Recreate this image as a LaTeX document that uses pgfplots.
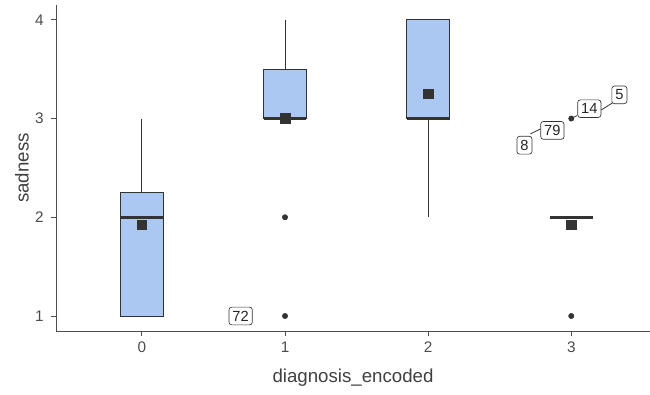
\documentclass[border=0pt]{standalone}
\usepackage{fontspec}
\setmainfont{Liberation Sans}
\usepackage{pgfplots}
\pgfplotsset{compat=1.18}
\usepgfplotslibrary{statistics}
\definecolor{boxfill}{RGB}{170,200,242}
\definecolor{edge}{RGB}{51,51,51}
\begin{document}
\begin{tikzpicture}
\begin{axis}[
  scale only axis,
  width=445.5pt, height=244.5pt,
  xmin=-0.6, xmax=3.55, ymin=0.848, ymax=4.15,
  axis lines=left,
  axis line style={black!70, line width=0.6pt, -},
  xtick={0,1,2,3}, ytick={1,2,3,4},
  tick style={black!70, line width=0.6pt},
  tick align=outside, major tick length=3.75pt,
  /pgf/number format/assume math mode=true,
  ticklabel style={font=\fontsize{11.5}{13}\selectfont, text=black!70},
  yticklabel style={xshift=-2pt},
  xticklabel style={yshift=-1pt},
  xlabel={diagnosis\_encoded}, ylabel={sadness},
  every axis x label/.style={at={(axis description cs:0.5,-0.144)}, anchor=center, font=\fontsize{14}{16}\selectfont, text=black!75},
  every axis y label/.style={at={(axis description cs:-0.0575,0.5)}, anchor=center, rotate=90, font=\fontsize{14}{16}\selectfont, text=black!75},
  boxplot/draw direction=y,
  boxplot/box extend=0.3,
  boxplot/whisker extend=0,
  boxplot/every median/.style={line width=2pt},
  clip=false,
]
\addplot[draw=edge, fill=boxfill, line width=0.7pt, boxplot prepared={lower whisker=1, lower quartile=1, median=2, upper quartile=2.25, upper whisker=3, draw position=0}] coordinates {};
\addplot[draw=edge, fill=boxfill, line width=0.7pt, boxplot prepared={lower whisker=3, lower quartile=3, median=3, upper quartile=3.5, upper whisker=4, draw position=1}] coordinates {};
\addplot[draw=edge, fill=boxfill, line width=0.7pt, boxplot prepared={lower whisker=2, lower quartile=3, median=3, upper quartile=4, upper whisker=4, draw position=2}] coordinates {};
\addplot[draw=edge, fill=boxfill, line width=0.7pt, boxplot prepared={lower whisker=2, lower quartile=2, median=2, upper quartile=2, upper whisker=2, draw position=3}] coordinates {};
% outliers
\addplot[only marks, mark=*, mark size=2pt, draw=edge, fill=edge] coordinates {(1,2) (1,1) (3,3) (3,1)};
% means
\addplot[only marks, mark=square*, mark size=3.6pt, draw=edge, fill=edge] coordinates {(0,1.925) (1,3.0) (2,3.25) (3,1.925)};
% leader lines
\addplot[edge, line width=0.6pt] coordinates {(2.715,2.844) (2.784,2.895)};
\addplot[edge, line width=0.6pt] coordinates {(3.0,3.0) (3.04,3.03)};
\addplot[edge, line width=0.6pt] coordinates {(3.21,3.087) (3.287,3.158)};
% labels
\tikzset{lab/.style={draw=edge, fill=white, rounded corners=2pt, inner xsep=2.6pt, inner ysep=2.8pt, line width=0.5pt, font=\fontsize{11}{13}\selectfont, text=black!85}}
\node[lab] at (axis cs:3.336,3.24) {5};
\node[lab] at (axis cs:3.126,3.10) {14};
\node[lab] at (axis cs:2.868,2.88) {79};
\node[lab] at (axis cs:2.673,2.73) {8};
\node[lab] at (axis cs:0.69,1.0) {72};
\end{axis}
\pgfresetboundingbox
\path (-42pt,-47.25pt) rectangle (445.5pt,248.25pt);
\end{tikzpicture}
\end{document}
